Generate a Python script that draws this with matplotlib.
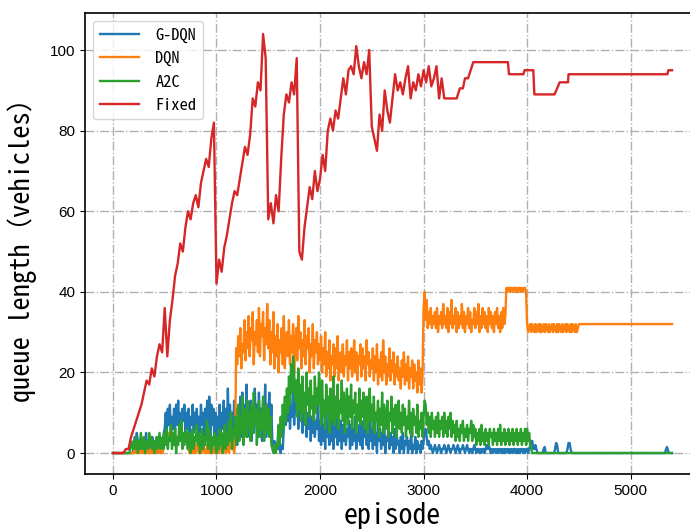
import numpy as np
import matplotlib
matplotlib.use('Agg')
import matplotlib.pyplot as plt

# Fixed (red): every 25 episodes from 0 to 3200, then the plateaus
fixed_step = 25
fixed_vals = [
    0, 0, 0, 0, 0, 1, 1, 4, 6, 8, 10, 12, 15, 18, 17, 21, 19, 24, 27, 25,
    36, 24, 33, 38, 44, 47, 52, 50, 56, 60, 58, 62, 64, 61, 67, 70, 73, 71, 78, 82,
    42, 48, 45, 51, 54, 58, 62, 65, 64, 68, 72, 76, 74, 79, 88, 86, 92, 90, 104, 98,
    58, 62, 57, 64, 60, 73, 84, 89, 87, 92, 89, 98, 50, 48, 56, 61, 66, 63, 70, 65,
    68, 74, 70, 80, 83, 80, 85, 83, 88, 93, 89, 95, 96, 94, 101, 96, 93, 97, 94, 100,
    81, 78, 75, 84, 80, 90, 85, 82, 88, 94, 90, 92, 89, 93, 96, 88, 92, 90, 94, 91,
    95, 92, 96, 91, 93, 96, 88, 93, 88,
]
fixed_tail_ep = [3320, 3350, 3380, 3400, 3430, 3480, 3815, 3825, 3965, 3975, 4060, 4070,
                 4265, 4315, 4395, 4400, 5355, 5365, 5400]
fixed_tail = [88, 90.5, 90.5, 93, 93, 97, 97, 94, 94, 95, 95, 89,
              89, 92, 92, 94, 94, 95, 95]

# the learning agents: every 10 episodes
step = 10

# G-DQN (blue), 0..4450
gdqn_vals = [
    0, 0, 0, 0, 0, 0, 0, 0, 0, 0,
    0, 0, 0, 0, 0, 0, 0, 0, 0, 0,
    2, 4, 1, 5, 3, 0, 2, 4, 1, 3,
    0, 2, 5, 1, 3, 0, 2, 1, 4, 0,
    3, 1, 2, 0, 4, 1, 3, 0, 2, 5,
    6, 10, 5, 11, 7, 12, 4, 9, 6, 11,
    5, 12, 7, 13, 6, 10, 4, 11, 8, 12,
    5, 10, 6, 11, 4, 9, 7, 12, 5, 10,
    6, 11, 4, 9, 5, 12, 7, 10, 4, 11,
    5, 13, 6, 14, 4, 12, 7, 11, 3, 10,
    3, 9, 5, 12, 4, 10, 6, 13, 3, 11,
    5, 16, 4, 12, 7, 10, 3, 13, 5, 11,
    2, 9, 6, 14, 4, 15, 7, 12, 5, 17,
    4, 11, 6, 13, 3, 10, 5, 16, 7, 12,
    4, 15, 6, 11, 3, 13, 5, 17, 4, 12,
    8, 15, 6, 12, 2, 1, 3, 0, 2, 1,
    3, 1, 0, 2, 1, 6, 11, 7, 13, 8,
    14, 6, 12, 9, 17, 7, 13, 10, 18, 6,
    12, 8, 15, 5, 11, 7, 13, 4, 10, 6,
    12, 3, 9, 5, 11, 4, 8, 6, 13, 3,
    8, 2, 9, 3, 7, 1, 10, 4, 6, 2,
    8, 3, 9, 1, 7, 4, 10, 2, 6, 3,
    8, 1, 7, 3, 9, 2, 6, 4, 8, 1,
    7, 2, 6, 3, 9, 1, 5, 3, 7, 2,
    8, 1, 6, 4, 7, 2, 5, 1, 8, 3,
    6, 1, 7, 2, 5, 0, 8, 3, 6, 1,
    5, 2, 7, 0, 4, 3, 6, 1, 5, 2,
    4, 0, 6, 1, 5, 2, 3, 0, 4, 1,
    5, 0, 3, 2, 4, 0, 3, 1, 5, 0,
    2, 1, 4, 0, 3, 1, 2, 0, 3, 1,
    3, 5, 6, 4, 2, 3, 1, 2, 1, 0,
    1, 2, 1, 0, 1, 2, 1, 0, 1, 1,
    2, 1, 0, 1, 2, 1, 0, 1, 1, 2,
    1, 0, 1, 2, 1, 0, 1, 1, 2, 1,
    0, 1, 2, 1, 0, 1, 1, 0, 1, 2,
    1, 0, 1, 1, 0, 1, 0, 1, 1, 0,
    1, 2, 1, 2, 1, 0, 1, 0, 1, 1,
    0, 1, 0, 1, 1, 0, 1, 0, 1, 0,
    1, 1, 0, 1, 0, 1, 0, 1, 1, 0,
    1, 0, 1, 0, 1, 1, 0, 1, 0, 1,
    1, 0, 1, 2, 3, 3, 1, 1, 2, 1,
    0, 0, 0, 0, 0, 0, 1, 1.5, 0, 0,
    0, 0, 0, 0, 0, 0, 0, 1, 2.5, 2,
    0, 0, 0, 0, 0, 0, 0, 0, 0, 1,
    2.5, 2.5, 1, 0, 0, 0,
]
gdqn_tail_ep = [5330, 5350, 5370, 5400]
gdqn_tail = [0, 1.5, 0, 0]

# DQN (orange), 0..4500
dqn_vals = [
    0, 0, 0, 0, 0, 0, 0, 0, 0, 0,
    0, 0, 0, 0, 0, 0, 0, 0, 0, 0,
    0, 1, 0, 0, 2, 0, 1, 0, 0, 1,
    0, 0, 1, 0, 2, 0, 0, 1, 0, 0,
    1, 0, 0, 2, 1, 0, 0, 1, 0, 2,
    4, 4, 3, 4, 5, 4, 4, 3, 4, 4,
    5, 4, 3, 4, 4, 5, 4, 3, 4, 4,
    4, 5, 3, 1, 0, 2, 0, 1, 0, 3,
    0, 1, 2, 0, 0, 1, 0, 3, 1, 0,
    0, 2, 0, 1, 0, 0, 3, 0, 1, 0,
    0, 2, 0, 1, 3, 0, 2, 4, 1, 0,
    3, 1, 0, 2, 4, 1, 3, 0, 2, 26,
    22, 29, 24, 31, 21, 27, 25, 33, 23, 30,
    26, 34, 24, 31, 28, 35, 22, 30, 27, 33,
    25, 36, 24, 32, 29, 35, 23, 31, 27, 37,
    26, 33, 22, 30, 25, 35, 21, 29, 24, 32,
    20, 28, 25, 31, 22, 34, 21, 27, 30, 24,
    33, 22, 29, 25, 32, 20, 27, 31, 23, 34,
    26, 30, 21, 28, 24, 33, 22, 29, 26, 31,
    20, 27, 24, 32, 21, 28, 25, 30, 22, 27,
    23, 29, 20, 26, 22, 30, 19, 25, 21, 28,
    18, 24, 22, 27, 19, 26, 21, 29, 18, 23,
    25, 20, 27, 19, 24, 22, 28, 18, 25, 21,
    26, 19, 23, 28, 20, 25, 18, 24, 22, 27,
    19, 26, 21, 24, 18, 28, 22, 25, 19, 23,
    21, 26, 18, 24, 20, 27, 17, 23, 19, 25,
    18, 28, 20, 24, 17, 22, 19, 26, 18, 23,
    20, 25, 17, 22, 19, 24, 18, 21, 16, 23,
    19, 25, 17, 22, 18, 24, 16, 21, 19, 23,
    16, 22, 18, 20, 15, 23, 17, 21, 15, 19,
    36, 40, 33, 38, 31, 35, 32, 36, 31, 34,
    32, 35, 31, 36, 30, 34, 32, 35, 31, 37,
    32, 34, 31, 36, 30, 35, 32, 38, 31, 34,
    32, 36, 30, 35, 31, 34, 32, 37, 31, 35,
    30, 34, 32, 36, 31, 35, 30, 33, 32, 36,
    31, 35, 32, 37, 30, 34, 31, 36, 32, 35,
    31, 34, 30, 36, 32, 35, 31, 34, 30, 35,
    32, 36, 31, 34, 30, 35, 31, 36, 32, 34,
    41, 40, 41, 41, 40, 41, 40, 41, 41, 40,
    41, 40, 41, 41, 40, 41, 40, 41, 41, 40,
    32, 30, 31, 32, 30, 32, 31, 30, 32, 30,
    31, 32, 30, 32, 30, 31, 32, 30, 32, 31,
    30, 32, 30, 31, 32, 30, 32, 31, 30, 32,
    30, 32, 31, 30, 32, 30, 31, 32, 30, 32,
    31, 30, 32, 30, 32, 31, 30, 32, 30, 31,
    32,
]
dqn_tail_ep = [5400]
dqn_tail = [32]

# A2C (green), 0..4050
a2c_vals = [
    0, 0, 0, 0, 0, 0, 0, 0, 0, 0,
    0, 0, 0, 0, 0, 0, 0, 3, 2, 1,
    3, 1, 4, 2, 0, 3, 1, 5, 2, 1,
    4, 0, 2, 3, 1, 5, 2, 4, 1, 3,
    0, 2, 4, 1, 3, 5, 1, 2, 4, 1,
    5, 2, 6, 1, 4, 3, 7, 1, 5, 2,
    6, 0, 4, 2, 7, 3, 8, 1, 5, 2,
    4, 6, 1, 3, 5, 0, 2, 6, 1, 4,
    3, 7, 2, 5, 0, 3, 6, 1, 4, 2,
    5, 8, 1, 6, 3, 0, 4, 2, 5, 1,
    0, 4, 1, 6, 2, 5, 0, 3, 7, 1,
    5, 2, 8, 3, 10, 1, 6, 4, 9, 2,
    7, 12, 3, 9, 5, 14, 2, 8, 11, 4,
    13, 6, 10, 3, 12, 5, 15, 7, 11, 2,
    9, 13, 4, 10, 6, 14, 3, 8, 12, 5,
    11, 4, 9, 2, 1, 0, 2, 0, 1, 3,
    7, 2, 9, 4, 12, 6, 14, 8, 16, 10,
    19, 12, 22, 15, 24, 20, 13, 18, 9, 21,
    11, 17, 8, 19, 10, 15, 7, 20, 12, 16,
    9, 18, 11, 14, 8, 19, 10, 16, 12, 20,
    15, 7, 18, 9, 13, 6, 17, 10, 14, 5,
    16, 8, 12, 19, 7, 14, 9, 17, 6, 13,
    10, 18, 8, 15, 5, 12, 16, 7, 14, 9,
    17, 6, 13, 10, 15, 5, 12, 8, 16, 7,
    13, 9, 15, 6, 11, 14, 5, 10, 16, 8,
    12, 6, 14, 5, 10, 8, 13, 4, 11, 7,
    15, 5, 12, 9, 6, 13, 4, 10, 8, 14,
    5, 11, 7, 12, 4, 9, 13, 6, 10, 5,
    12, 7, 11, 4, 9, 6, 13, 5, 10, 4,
    11, 7, 9, 5, 12, 4, 8, 6, 10, 4,
    9, 13, 12, 7, 10, 5, 9, 4, 10, 6,
    8, 4, 9, 5, 10, 4, 8, 6, 9, 4,
    10, 5, 8, 4, 9, 6, 10, 4, 8, 5,
    7, 3, 8, 4, 6, 3, 7, 5, 8, 3,
    6, 4, 7, 3, 6, 5, 8, 3, 7, 4,
    6, 2, 5, 3, 6, 2, 7, 3, 5, 2,
    6, 3, 5, 2, 6, 4, 5, 2, 6, 3,
    5, 2, 6, 3, 7, 2, 5, 3, 6, 2,
    5, 3, 6, 2, 5, 3, 6, 2, 5, 3,
    6, 2, 5, 3, 6, 2, 5, 3, 6, 2,
    6, 3, 5, 2, 1, 0,
]
a2c_tail_ep = [5400]
a2c_tail = [0]


def series(vals, st, tail_ep, tail):
    ep = np.arange(len(vals)) * st
    return np.concatenate([ep, tail_ep]), np.concatenate([vals, tail])


mono = ['Noto Sans Mono CJK SC', 'DejaVu Sans Mono']

fig = plt.figure(figsize=(6.9, 5.29), dpi=100)
ax = fig.add_axes([85 / 690, 55 / 529, 615 / 690, 461 / 529])

lw = 1.7
x, y = series(gdqn_vals, step, gdqn_tail_ep, gdqn_tail)
ax.plot(x, y, color='tab:blue', lw=lw, label='G-DQN')
x, y = series(dqn_vals, step, dqn_tail_ep, dqn_tail)
ax.plot(x, y, color='tab:orange', lw=lw, label='DQN')
x, y = series(a2c_vals, step, a2c_tail_ep, a2c_tail)
ax.plot(x, y, color='tab:green', lw=lw, label='A2C')
x, y = series(fixed_vals, fixed_step, fixed_tail_ep, fixed_tail)
ax.plot(x, y, color='tab:red', lw=lw, label='Fixed')

ax.set_xlim(-270, 5670)
ax.set_ylim(-5.2, 109.2)
ax.set_xticks([0, 1000, 2000, 3000, 4000, 5000])
ax.set_yticks([0, 20, 40, 60, 80, 100])
ax.grid(True, linestyle='-.', color='#b0b0b0', linewidth=1.0)
ax.tick_params(labelsize=11)
for lab in ax.get_xticklabels() + ax.get_yticklabels():
    lab.set_family('Liberation Sans')
for s in ax.spines.values():
    s.set_linewidth(1.2)

ax.set_xlabel('episode', fontsize=20, family=mono, labelpad=3)
ax.set_ylabel('queue length（vehicles）', fontsize=19, family=mono, labelpad=9)
ax.legend(loc='upper left', prop={'family': mono, 'size': 11.8},
          handlelength=2.4, handletextpad=1.0)

fig.savefig('out.png', dpi=100)
